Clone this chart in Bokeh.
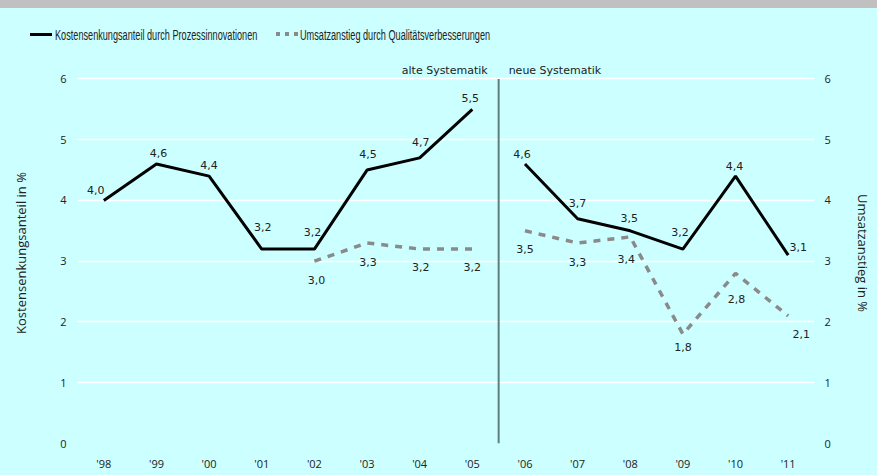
import math
from bokeh.plotting import figure
from bokeh.layouts import column
from bokeh.models import ColumnDataSource, LinearAxis, Range1d, FixedTicker, Div
from bokeh.core.properties import value
from bokeh.embed import file_html
from bokeh.resources import INLINE

# ---- data ----
years = ["'98", "'99", "'00", "'01", "'02", "'03", "'04", "'05",
         "'06", "'07", "'08", "'09", "'10", "'11"]
kosten = [4.0, 4.6, 4.4, 3.2, 3.2, 4.5, 4.7, 5.5, 4.6, 3.7, 3.5, 3.2, 4.4, 3.1]
umsatz = [math.nan, math.nan, math.nan, math.nan, 3.0, 3.3, 3.2, 3.2,
          3.5, 3.3, 3.4, 1.8, 2.8, 2.1]
break_index = 8  # new methodology starts with '06
y_ticks = [0, 1, 2, 3, 4, 5, 6]

legend_kosten = "Kostensenkungsanteil durch Prozessinnovationen"
legend_umsatz = "Umsatzanstieg durch Qualitätsverbesserungen"
left_title = "Kostensenkungsanteil in %"
right_title = "Umsatzanstieg in %"
old_label = "alte Systematik"
new_label = "neue Systematik"

# ---- label placement (screen px offsets, layout only) ----
k_dx = [-8, 2, 0, 1, -2, 1, 1, -2, -3, 0, -1, -3, -1, 10]
k_dy = [-10, -11, -11, -22, -17, -16, -16, -11, -10, -16, -13, -17, -10, -8]
u_dx = [2, 1, 1, 0, 0, 0, -4, 0, 1, 13]
u_dy = [19, 19, 18, 18, 18, 19, 22, 13, 26, 18]

BG = "#ccffff"
BAND = "#c0c0c0"
TXT = "#222222"
GRAY = "#8a8a8a"
Y_TOP = 6.27
W = 877
LEG_H = 54

xs = list(range(len(years)))


def fmt(v):
    return f"{v:.1f}".replace(".", ",")


K_STYLE = dict(line_color="black", line_width=3)
U_STYLE = dict(line_color=GRAY, line_width=3.5, line_dash="7 7")

# ---------------- main chart ----------------
p = figure(width=W, height=421, output_backend="svg", toolbar_location=None,
           x_range=Range1d(-0.5, len(years) - 0.5), y_range=Range1d(0, Y_TOP),
           min_border_left=77, min_border_right=63, min_border_top=8, min_border_bottom=32,
           background_fill_color=BG, border_fill_color=BG, outline_line_color=None,
           y_axis_location=None)
p.extra_y_ranges = {"umsatz": Range1d(0, Y_TOP)}

p.xgrid.grid_line_color = None
p.ygrid.grid_line_color = "white"
p.ygrid.grid_line_width = 1.5
p.ygrid.ticker = FixedTicker(ticks=y_ticks)

xa = p.xaxis[0]
xa.ticker = FixedTicker(ticks=xs)
xa.major_label_overrides = {i: y for i, y in enumerate(years)}
xa.axis_line_color = None
xa.major_tick_line_color = None
xa.minor_tick_line_color = None
xa.major_tick_out = 0
xa.major_tick_in = 0
xa.major_label_standoff = 12
xa.major_label_text_font = "Open Sans"
xa.major_label_text_font_size = "11px"
xa.major_label_text_color = TXT

la = LinearAxis(ticker=FixedTicker(ticks=y_ticks), axis_label=left_title)
ra = LinearAxis(ticker=FixedTicker(ticks=y_ticks), axis_label=right_title, y_range_name="umsatz")
for ax, std, lstd in ((la, 11, 27), (ra, 10, 20)):
    ax.axis_line_color = None
    ax.major_tick_line_color = None
    ax.minor_tick_line_color = None
    ax.major_tick_out = 0
    ax.major_tick_in = 0
    ax.major_label_standoff = std
    ax.axis_label_standoff = lstd
    ax.major_label_text_font = "Open Sans"
    ax.major_label_text_font_size = "11px"
    ax.major_label_text_color = TXT
    ax.axis_label_text_font = "Open Sans"
    ax.axis_label_text_font_size = "13px"
    ax.axis_label_text_font_style = "normal"
    ax.axis_label_text_color = TXT
p.add_layout(la, "left")
p.add_layout(ra, "right")

# separator between old and new methodology
sep_x = break_index - 0.5
p.segment(x0=[sep_x], y0=[y_ticks[0]], x1=[sep_x], y1=[y_ticks[-1]],
          line_color="#5f7f7f", line_width=2)
p.text(x=[sep_x, sep_x], y=[y_ticks[-1], y_ticks[-1]], text=[old_label, new_label],
       x_offset=[-11, 10], y_offset=-8, text_align=["right", "left"],
       text_baseline="middle", text_font=value("DejaVu Sans"),
       text_font_size="11px", text_color=TXT)

# lines (split at methodology break)
for sl in (slice(0, break_index), slice(break_index, len(years))):
    p.line(xs[sl], kosten[sl], **K_STYLE)
    p.line(xs[sl], umsatz[sl], y_range_name="umsatz", **U_STYLE)

# value labels
ksrc = ColumnDataSource(dict(x=xs, y=kosten, t=[fmt(v) for v in kosten], dx=k_dx, dy=k_dy))
p.text(x="x", y="y", text="t", source=ksrc, x_offset="dx", y_offset="dy",
       text_align="center", text_baseline="middle",
       text_font=value("DejaVu Sans"), text_font_size="11px", text_color=TXT)

ux = [x for x, v in zip(xs, umsatz) if not math.isnan(v)]
uv = [v for v in umsatz if not math.isnan(v)]
usrc = ColumnDataSource(dict(x=ux, y=uv, t=[fmt(v) for v in uv], dx=u_dx, dy=u_dy))
p.text(x="x", y="y", text="t", source=usrc, x_offset="dx", y_offset="dy",
       text_align="center", text_baseline="middle", y_range_name="umsatz",
       text_font=value("DejaVu Sans"), text_font_size="11px", text_color=TXT)

# ---------------- legend strip (with grey top band) ----------------
txt_style = (f"position:absolute;top:25px;font-family:'Liberation Sans';font-size:15.5px;"
             f"line-height:19px;color:{TXT};white-space:nowrap;transform:scaleX(0.59);"
             f"transform-origin:0 50%;")
legend_html = (
    f'<div style="position:relative;width:{W}px;height:{LEG_H}px;background:{BG};overflow:hidden;">'
    f'<div style="position:absolute;left:0;top:0;width:{W}px;height:8px;background:{BAND};"></div>'
    f'<div style="position:absolute;left:30px;top:33px;width:22px;height:3px;background:#000;"></div>'
    f'<div style="{txt_style}left:55px;">{legend_kosten}</div>'
    f'<div style="position:absolute;left:276px;top:32px;width:22px;height:4px;'
    f'background:repeating-linear-gradient(to right,{GRAY} 0px,{GRAY} 4px,transparent 4px,transparent 9px);"></div>'
    f'<div style="{txt_style}left:300px;">{legend_umsatz}</div>'
    f'</div>'
)
lg = Div(text=legend_html, width=W, height=LEG_H, margin=(0, 0, 0, 0))

layout = column(lg, p, spacing=0)
html = file_html(layout, INLINE)
html = html.replace("</head>", f"<style>html,body{{background:{BG};}}</style></head>", 1)
open("out.html", "w").write(html)
